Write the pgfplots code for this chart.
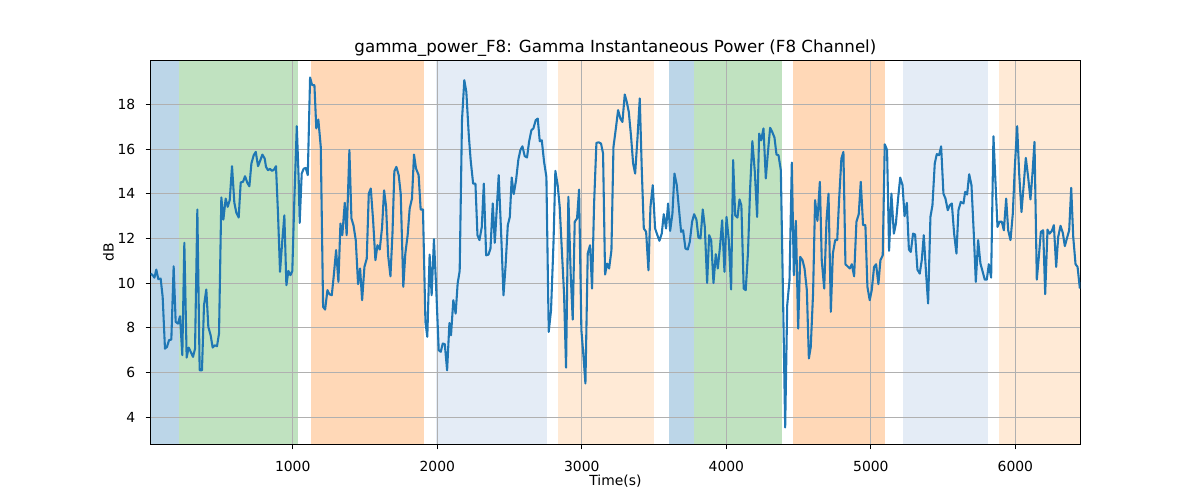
\documentclass[border=0pt]{standalone}
\usepackage{fontspec}
\setmainfont{DejaVu Sans}
\usepackage{pgfplots}
\pgfplotsset{compat=1.18}
\definecolor{tabblue}{RGB}{31,119,180}
\definecolor{spanBlue}{RGB}{188,214,232}
\definecolor{spanGreen}{RGB}{192,226,192}
\definecolor{spanOrange}{RGB}{255,216,183}
\definecolor{spanLBlue}{RGB}{228,236,246}
\definecolor{spanLOrange}{RGB}{255,234,214}
\definecolor{gridgray}{RGB}{176,176,176}
\begin{document}
\begin{tikzpicture}
\begin{axis}[
  set layers,
  at={(0pt,0pt)}, anchor=south west,
  scale only axis, width=669.6pt, height=276.5pt,
  xmin=16, xmax=6449, ymin=2.78, ymax=19.97,
  xtick={1000,2000,3000,4000,5000,6000},
  ytick={4,6,8,10,12,14,16,18},
  /pgf/number format/assume math mode=true,
  /pgf/number format/set thousands separator={},
  tick align=outside, tick pos=left,
  major tick length=3.5pt,
  every tick/.style={black, line width=0.8pt},
  axis line style={line width=0.8pt, black},
  grid=major,
  major grid style={gridgray, line width=0.8pt},
  tick label style={font=\fontsize{10}{12}\selectfont},
  xticklabel style={anchor=base, yshift=-16.3pt},
  yticklabel style={anchor=east, xshift=-4pt},
  title={gamma\_power\_F8: Gamma Instantaneous Power (F8 Channel)},
  every axis title/.style={font=\fontsize{12}{14}\selectfont, at={(axis description cs:0.5,1)}, anchor=base, yshift=6pt, inner sep=0pt},
  xlabel={Time(s)},
  every axis x label/.style={font=\fontsize{10}{12}\selectfont, at={(axis description cs:0.5,0)}, anchor=base, yshift=-29.2pt, inner sep=0pt},
  ylabel={dB},
  every axis y label/.style={font=\fontsize{10}{12}\selectfont, at={(axis description cs:-0.0452,0.5)}, anchor=center, rotate=90, inner sep=0pt},
]
% shaded phases
\addplot[draw=none, fill=spanBlue, on layer=axis background] coordinates {(16,2.78) (16,19.97) (213,19.97) (213,2.78)} -- cycle;
\addplot[draw=none, fill=spanGreen, on layer=axis background] coordinates {(213,2.78) (213,19.97) (1033,19.97) (1033,2.78)} -- cycle;
\addplot[draw=none, fill=spanOrange, on layer=axis background] coordinates {(1127,2.78) (1127,19.97) (1909,19.97) (1909,2.78)} -- cycle;
\addplot[draw=none, fill=spanLBlue, on layer=axis background] coordinates {(1988,2.78) (1988,19.97) (2758,19.97) (2758,2.78)} -- cycle;
\addplot[draw=none, fill=spanLOrange, on layer=axis background] coordinates {(2838,2.78) (2838,19.97) (3502,19.97) (3502,2.78)} -- cycle;
\addplot[draw=none, fill=spanBlue, on layer=axis background] coordinates {(3604,2.78) (3604,19.97) (3773,19.97) (3773,2.78)} -- cycle;
\addplot[draw=none, fill=spanGreen, on layer=axis background] coordinates {(3776,2.78) (3776,19.97) (4384,19.97) (4384,2.78)} -- cycle;
\addplot[draw=none, fill=spanOrange, on layer=axis background] coordinates {(4464,2.78) (4464,19.97) (5099,19.97) (5099,2.78)} -- cycle;
\addplot[draw=none, fill=spanLBlue, on layer=axis background] coordinates {(5223,2.78) (5223,19.97) (5809,19.97) (5809,2.78)} -- cycle;
\addplot[draw=none, fill=spanLOrange, on layer=axis background] coordinates {(5883,2.78) (5883,19.97) (6449,19.97) (6449,2.78)} -- cycle;
% signal
\addplot[tabblue, line width=1.5pt, line join=round] coordinates {
(17,10.43) (31,10.36) (43,10.25) (56,10.61) (70,10.18) (86,10.21) (100,9.39) (116,7.07)
(130,7.15) (144,7.45) (160,7.48) (176,10.76) (190,8.27) (206,8.19) (220,8.52) (236,6.78)
(250,11.81) (266,6.67) (280,7.12) (294,6.93) (310,6.70) (324,7.07) (340,13.30) (356,6.10)
(372,6.10) (386,9.01) (402,9.72) (416,8.04) (432,7.67) (446,7.12) (460,7.22) (476,7.18)
(490,7.75) (506,13.84) (520,12.85) (536,13.79) (550,13.42) (564,13.72) (580,15.24) (596,13.60)
(610,13.15) (626,12.94) (640,14.51) (656,14.54) (670,14.79) (686,14.49) (700,14.34) (714,15.36)
(730,15.73) (744,15.88) (760,15.24) (776,15.51) (790,15.76) (806,15.58)
(815,15.21) (829,15.06) (843,15.12) (857,15.03) (871,15.09) (884,15.24) (898,13.12) (912,10.51)
(928,11.93) (942,13.04) (956,9.91) (970,10.55) (984,10.36) (997,10.55) (1011,13.72) (1028,17.03)
(1041,14.69) (1048,12.70) (1062,14.91) (1076,15.13) (1090,15.16) (1104,14.84) (1120,19.21) (1134,18.87)
(1150,18.87) (1163,16.93) (1177,17.33) (1194,16.10) (1210,8.94) (1224,8.82) (1240,9.69) (1253,9.51)
(1270,9.46) (1283,10.28) (1300,11.48) (1316,10.06) (1330,12.67) (1343,12.15) (1360,13.60) (1373,12.15)
(1392,15.96) (1406,12.90) (1420,12.60) (1436,11.93) (1452,9.96) (1466,10.66) (1480,9.24) (1496,10.73)
(1512,11.10) (1526,14.01) (1540,14.24) (1556,12.82) (1572,11.03) (1586,11.70) (1602,11.51)
(1618,12.50) (1632,14.16) (1646,13.42) (1660,11.25) (1676,10.31) (1690,12.22) (1703,15.01) (1717,15.21)
(1733,14.84) (1747,14.01) (1765,9.84) (1779,11.33) (1795,12.15) (1809,13.34) (1825,13.79) (1839,15.76)
(1853,15.13) (1871,14.84) (1885,13.30) (1901,13.30) (1918,8.27) (1931,7.60) (1947,11.28) (1961,9.46)
(1977,11.97) (1994,9.54) (2010,7.00) (2024,6.93) (2038,7.30) (2052,7.27) (2068,6.10) (2084,8.22)
(2095,7.67) (2111,9.24) (2127,8.64) (2141,9.99) (2155,10.55) (2171,17.30) (2187,19.09) (2201,18.57)
(2218,16.63) (2231,15.51) (2248,14.46) (2264,14.46) (2278,12.15) (2292,11.93) (2308,12.52) (2322,14.46)
(2338,11.25) (2354,11.28) (2368,11.55) (2384,13.57) (2398,11.81)
(2425,14.84) (2442,12.22) (2458,9.46) (2472,10.73) (2488,12.60) (2502,12.97) (2515,14.73) (2529,13.99)
(2545,14.61) (2561,15.54) (2575,15.96) (2589,16.13) (2605,15.69) (2621,15.63) (2635,16.33) (2651,16.85)
(2665,16.93) (2681,17.30) (2695,17.37) (2709,16.36) (2723,16.40) (2739,15.43) (2755,14.76) (2771,7.82)
(2787,8.79) (2804,11.78) (2817,15.03) (2833,14.39) (2847,13.42) (2863,11.33) (2877,9.54) (2891,6.22)
(2907,13.87) (2923,10.43) (2937,8.37) (2951,12.75) (2967,12.90) (2981,14.19) (2997,7.90) (3011,6.78)
(3025,5.51) (3041,11.33) (3057,11.70) (3071,9.76) (3085,13.57) (3101,16.28) (3117,16.31) (3133,16.25)
(3147,15.81) (3161,10.39) (3175,10.88) (3189,10.66) (3205,11.48) (3219,16.10)
(3237,17.00) (3251,17.75) (3267,17.37) (3281,17.22) (3297,18.45) (3311,18.12) (3325,17.67) (3341,16.55)
(3355,15.36) (3369,14.91) (3385,16.48) (3401,18.27) (3415,15.06) (3429,12.45) (3445,12.30) (3461,10.58)
(3475,13.42) (3491,14.39) (3507,12.45) (3523,12.15) (3537,11.90) (3553,12.22) (3567,13.09) (3583,12.45)
(3597,13.57) (3611,12.34) (3627,13.12) (3641,14.91) (3657,14.39) (3673,13.27) (3687,12.30) (3701,12.37)
(3717,11.55) (3733,11.51) (3747,11.85) (3763,12.75) (3777,13.09) (3793,12.85) (3807,12.04) (3821,12.00)
(3837,13.30) (3851,12.52) (3867,10.01) (3881,12.15) (3895,11.93) (3911,10.01) (3927,11.30) (3941,10.66)
(3957,11.70) (3971,12.82) (3987,10.51) (4001,12.97) (4017,11.93)
(4033,9.72) (4047,15.51) (4061,13.04) (4077,12.94) (4091,13.75) (4104,13.49) (4120,9.76) (4134,9.69)
(4150,11.40) (4164,14.16) (4180,16.36) (4197,14.99) (4213,12.97) (4227,16.70) (4241,16.40) (4257,16.93)
(4273,14.69) (4287,15.81) (4303,16.96) (4317,16.78) (4333,16.52) (4347,15.76) (4361,15.73) (4377,15.06)
(4393,9.09) (4407,3.54) (4421,9.01) (4437,10.13) (4453,15.40) (4467,10.36) (4481,12.79) (4497,7.97)
(4511,11.18) (4527,11.03) (4541,10.66) (4557,9.69) (4571,6.63) (4584,7.15) (4600,9.54) (4614,13.72)
(4630,12.79) (4647,14.54) (4660,11.03) (4677,9.76) (4693,12.82) (4707,14.01) (4723,8.72) (4737,11.33)
(4753,11.93) (4767,11.93) (4780,13.72) (4796,15.58) (4810,15.88) (4824,10.85)
(4838,10.76) (4854,10.66) (4868,10.85) (4884,10.31) (4900,12.75) (4916,13.09) (4930,14.54) (4946,12.60)
(4962,12.60) (4976,9.84) (4992,9.24) (5006,9.69) (5022,10.73) (5036,10.85) (5052,9.96) (5066,11.03)
(5082,11.25) (5096,16.22) (5112,15.96) (5126,11.45) (5142,14.01) (5159,12.22) (5173,12.67) (5189,13.84)
(5203,14.73) (5219,14.39) (5233,13.00) (5249,13.60) (5263,11.51) (5276,11.40) (5292,12.22) (5306,12.18)
(5322,10.61) (5338,10.43) (5352,11.03) (5366,12.15) (5382,10.43) (5396,9.09) (5412,12.97) (5426,13.49)
(5442,15.36) (5456,15.78) (5472,15.73) (5486,16.13) (5502,14.01) (5516,13.79) (5532,13.27) (5546,13.49)
(5560,13.57) (5576,12.22) (5592,11.33) (5606,13.27) (5622,13.64)
(5641,13.57) (5652,14.09) (5666,13.97) (5680,14.88) (5696,14.39) (5712,12.22) (5726,10.06) (5742,11.93)
(5758,10.88) (5772,10.55) (5788,10.16) (5802,10.16) (5816,10.85) (5832,10.25) (5848,16.58) (5862,14.54)
(5876,12.52) (5890,12.75) (5906,12.75) (5920,12.37) (5936,13.79) (5950,12.37) (5966,11.93) (5982,13.12)
(5996,15.21) (6012,17.03) (6026,14.91) (6042,13.19) (6058,14.46) (6072,15.61) (6088,14.76) (6104,13.75)
(6118,14.91) (6132,16.33) (6148,10.16) (6162,11.18) (6176,12.30) (6192,12.37) (6206,9.51) (6222,12.40)
(6236,12.22) (6252,12.34) (6266,12.60) (6282,10.73) (6296,12.07) (6312,12.57) (6328,12.25) (6342,11.66)
(6356,12.00) (6372,12.37) (6386,14.27) (6400,12.07) (6416,10.85) (6430,10.73) (6446,9.76)
};
\end{axis}
\path (-108.4pt,-40pt) rectangle (755.8pt,320.1pt);
\end{tikzpicture}
\end{document}
